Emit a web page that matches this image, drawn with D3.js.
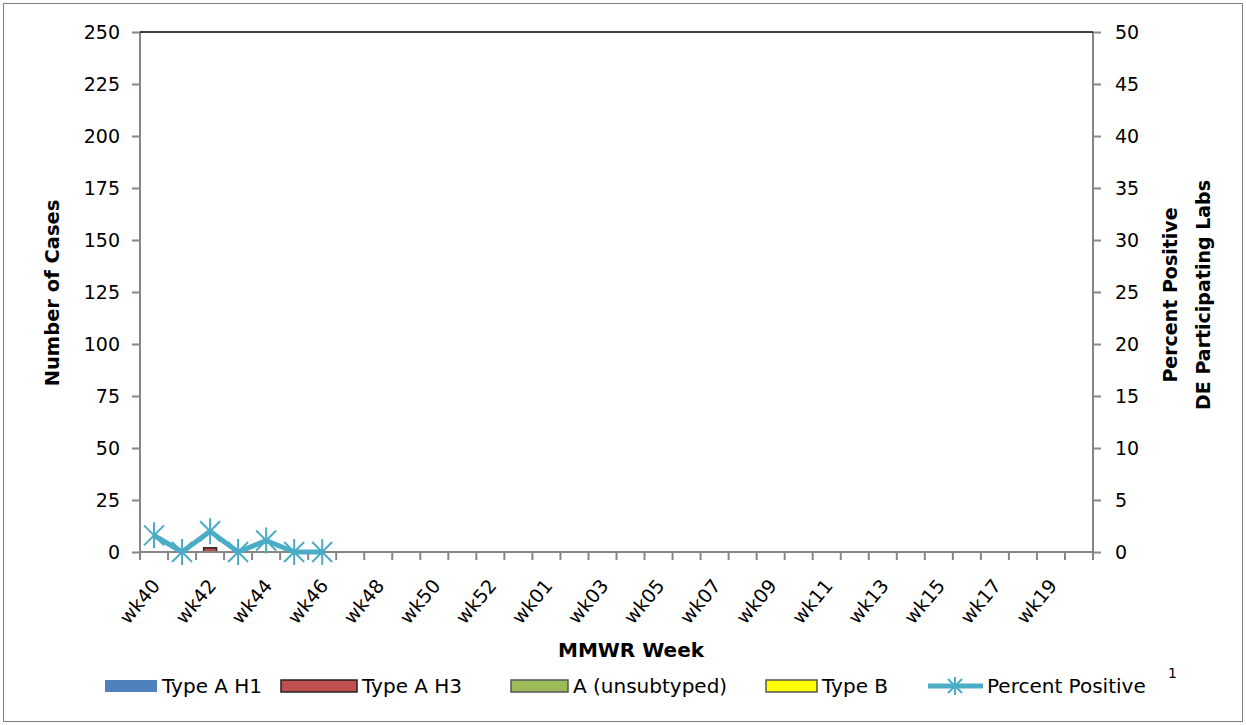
<!DOCTYPE html>
<html>
<head>
<meta charset="utf-8">
<script src="https://cdn.jsdelivr.net/npm/d3@7"></script>
<style>
  body { margin: 0; background: #fff; }
  svg text { font-family: "DejaVu Sans", "Liberation Sans", sans-serif; fill: #000; }
</style>
</head>
<body>
<div class="chart"></div>
<script>
// weeks on the x axis, wk40 .. wk53 then wk01 .. wk20
var weeks = [];
for (var w = 40; w <= 53; w++) weeks.push('wk' + w);
for (var w = 1; w <= 20; w++) weeks.push('wk' + (w < 10 ? '0' + w : w));

// reported weeks only
var typeAH1 = [0, 0, 0, 0, 0, 0, 0];
var typeAH3 = [0, 0, 2, 0, 0, 0, 0];
var unsubtyped = [0, 0, 0, 0, 0, 0, 0];
var typeB = [0, 0, 0, 0, 0, 0, 0];
var percentPositive = [1.6, 0, 2.0, 0, 1.1, 0, 0];

var leftTicks = [0, 25, 50, 75, 100, 125, 150, 175, 200, 225, 250];
var rightTicks = [0, 5, 10, 15, 20, 25, 30, 35, 40, 45, 50];

var series = [
  { name: 'Type A H1', values: typeAH1, color: '#4F81BD', stroke: 'none' },
  { name: 'Type A H3', values: typeAH3, color: '#C0504D', stroke: '#222' },
  { name: 'A (unsubtyped)', values: unsubtyped, color: '#9BBB59', stroke: '#555' },
  { name: 'Type B', values: typeB, color: '#FFFF00', stroke: '#555' }
];

var width = 1246, height = 725;
var margin = { top: 32, right: 153, bottom: 173, left: 140 };
var plotW = width - margin.left - margin.right;
var plotH = height - margin.top - margin.bottom;

var svg = d3.select('.chart').append('svg')
    .attr('width', width)
    .attr('height', height);

svg.append('rect')
    .attr('x', 3.5).attr('y', 3.5)
    .attr('width', width - 7).attr('height', height - 7)
    .attr('fill', '#fff')
    .attr('stroke', '#7f7f7f');

var g = svg.append('g').attr('transform', 'translate(' + margin.left + ',' + margin.top + ')');

var x = d3.scaleBand().domain(weeks).range([0, plotW]);
var yL = d3.scaleLinear().domain([0, 250]).range([plotH, 0]);
var yR = d3.scaleLinear().domain([0, 50]).range([plotH, 0]);

// stacked bars
var stackRows = weeks.slice(0, typeAH1.length).map(function(wk, i) {
  var r = { week: wk };
  series.forEach(function(s) { r[s.name] = s.values[i]; });
  return r;
});
var stacked = d3.stack().keys(series.map(function(s) { return s.name; }))(stackRows);

g.selectAll('.layer')
    .data(stacked)
    .enter()
    .append('g')
    .attr('class', 'layer')
    .each(function(layer, li) {
      d3.select(this).selectAll('rect')
        .data(layer.filter(function(d) { return d[1] - d[0] > 0; }))
        .enter()
        .append('rect')
          .attr('x', function(d) { return x(d.data.week) + x.bandwidth() * 0.27; })
          .attr('width', x.bandwidth() * 0.46)
          .attr('y', function(d) { return yL(d[1]); })
          .attr('height', function(d) { return yL(d[0]) - yL(d[1]); })
          .attr('fill', series[li].color)
          .attr('stroke', series[li].stroke)
          .attr('stroke-width', 1.5);
    });

// axes
var axisColor = '#868686';

var leftAxis = g.append('g')
    .call(d3.axisLeft(yL).tickValues(leftTicks).tickSize(8).tickPadding(12));
var rightAxis = g.append('g')
    .attr('transform', 'translate(' + plotW + ',0)')
    .call(d3.axisRight(yR).tickValues(rightTicks).tickSize(8).tickPadding(14));

var xAxis = g.append('g')
    .attr('transform', 'translate(0,' + plotH + ')')
    .call(d3.axisBottom(x).tickSize(0).tickFormat(function(d, i) { return i % 2 === 0 ? d : ''; }));

// category boundary ticks
g.append('g')
    .selectAll('line')
    .data(d3.range(weeks.length + 1))
    .enter()
    .append('line')
      .attr('x1', function(i) { return i * x.step(); })
      .attr('x2', function(i) { return i * x.step(); })
      .attr('y1', plotH)
      .attr('y2', plotH + 8)
      .attr('stroke', axisColor)
      .attr('stroke-width', 2);

[leftAxis, rightAxis, xAxis].forEach(function(a) {
  a.select('.domain').attr('stroke', axisColor).attr('stroke-width', 2);
  a.selectAll('.tick line').attr('stroke', axisColor).attr('stroke-width', 2);
  a.selectAll('.tick text').style('font-size', '19px').attr('fill', '#000');
});
leftAxis.select('.domain').attr('d', 'M0,' + plotH + 'V0');
rightAxis.select('.domain').attr('d', 'M0,' + plotH + 'V0');
xAxis.select('.domain').attr('d', 'M0,0H' + plotW);

xAxis.selectAll('.tick text')
    .attr('text-anchor', 'end')
    .attr('y', 0)
    .attr('dy', '0.35em')
    .attr('transform', 'translate(2,30) rotate(-50)');

// top border
g.append('line')
    .attr('x1', 0).attr('x2', plotW)
    .attr('y1', 0).attr('y2', 0)
    .attr('stroke', '#000').attr('stroke-width', 1.5);

// percent positive line
var lineColor = '#4BACC6';
var pts = percentPositive.map(function(v, i) {
  return { x: x(weeks[i]) + x.bandwidth() / 2, y: yR(v) };
});

g.append('path')
    .datum(pts)
    .attr('fill', 'none')
    .attr('stroke', lineColor)
    .attr('stroke-width', 5)
    .attr('stroke-linejoin', 'round')
    .attr('d', d3.line().x(function(d) { return d.x; }).y(function(d) { return d.y; }));

function starPath(r) {
  return 'M' + (-r) + ',' + (-r) + 'L' + r + ',' + r +
         'M' + (-r) + ',' + r + 'L' + r + ',' + (-r) +
         'M0,' + (-r * 1.3) + 'L0,' + (r * 1.3);
}

g.selectAll('.marker')
    .data(pts)
    .enter()
    .append('path')
      .attr('class', 'marker')
      .attr('transform', function(d) { return 'translate(' + d.x + ',' + d.y + ')'; })
      .attr('d', starPath(10))
      .attr('stroke', lineColor)
      .attr('stroke-width', 2)
      .attr('fill', 'none');

// axis titles
svg.append('text')
    .attr('transform', 'translate(59,' + (margin.top + plotH / 2 + 1) + ') rotate(-90)')
    .attr('text-anchor', 'middle')
    .style('font-size', '19.5px')
    .style('font-weight', 'bold')
    .text('Number of Cases');

var rt = svg.append('text')
    .attr('transform', 'translate(1177,' + (margin.top + plotH / 2 + 3) + ') rotate(-90)')
    .attr('text-anchor', 'middle')
    .style('font-size', '19px')
    .style('font-weight', 'bold');
rt.append('tspan').attr('x', 0).attr('dy', 0).text('Percent Positive');
rt.append('tspan').attr('x', 0).attr('dy', 33).text('DE Participating Labs');

svg.append('text')
    .attr('x', 631)
    .attr('y', 657)
    .attr('text-anchor', 'middle')
    .style('font-size', '20px')
    .style('font-weight', 'bold')
    .text('MMWR Week');

// legend
var legendY = 686;
var legendItems = [
  { s: series[0], x: 105, w: 52 },
  { s: series[1], x: 281, w: 76 },
  { s: series[2], x: 511, w: 57 },
  { s: series[3], x: 766, w: 51 }
];
var legend = svg.append('g');
legendItems.forEach(function(it) {
  legend.append('rect')
      .attr('x', it.x).attr('y', legendY - 6)
      .attr('width', it.w).attr('height', 12)
      .attr('fill', it.s.color)
      .attr('stroke', it.s.stroke)
      .attr('stroke-width', 1.5);
  legend.append('text')
      .attr('x', it.x + it.w + 5).attr('y', legendY)
      .attr('dy', '0.35em')
      .style('font-size', '20px')
      .text(it.s.name);
});
legend.append('line')
    .attr('x1', 928).attr('x2', 983)
    .attr('y1', legendY).attr('y2', legendY)
    .attr('stroke', lineColor).attr('stroke-width', 5);
legend.append('path')
    .attr('transform', 'translate(955,' + legendY + ')')
    .attr('d', starPath(7))
    .attr('stroke', lineColor).attr('stroke-width', 2);
legend.append('text')
    .attr('x', 987).attr('y', legendY)
    .attr('dy', '0.35em')
    .style('font-size', '20px')
    .text('Percent Positive');
legend.append('text')
    .attr('x', 1168).attr('y', legendY - 8)
    .style('font-size', '14px')
    .text('1');
</script>
</body>
</html>
